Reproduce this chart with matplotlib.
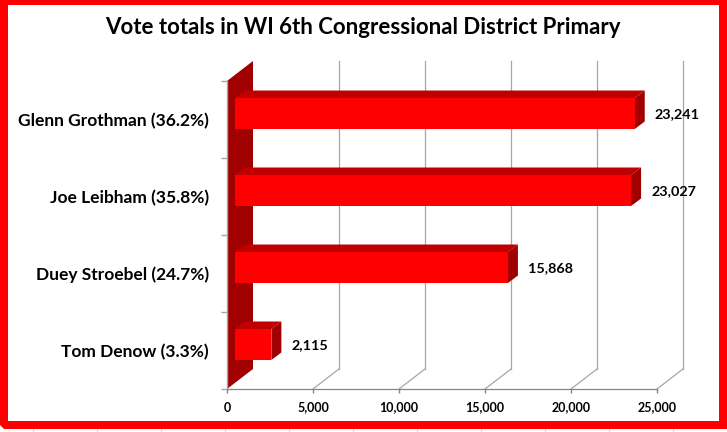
"""Vote totals in the WI 6th Congressional District primary, drawn as a fake 3D bar chart."""

import matplotlib

matplotlib.use("Agg")
import matplotlib.pyplot as plt
from matplotlib.patches import Polygon, Rectangle
from matplotlib.transforms import Affine2D

# Data
CANDIDATES = ["Glenn Grothman (36.2%)", "Joe Leibham (35.8%)", "Duey Stroebel (24.7%)", "Tom Denow (3.3%)"]
VOTES = [23241, 23027, 15868, 2115]
X_TICKS = [0, 5000, 10000, 15000, 20000, 25000]

TITLE = "Vote totals in WI 6th Congressional District Primary"

# Pixel geometry of the picture
W, H = 727, 432
LEFT, RIGHT, TOP, BOTTOM = 227, 657, 81, 389
WALL_DX, WALL_DY = 26, 20
BAR_DX, BAR_DY = 10, 7.5
BAR_SHIFT = 8

RED = "#ff0000"
TOP_RED = "#c00000"
SIDE_RED = "#a00000"
GREY = "#a6a6a6"
DARK_GREY = "#868686"

plt.rcParams["font.family"] = ["Lato", "DejaVu Sans"]

fig = plt.figure(figsize=(W / 100, H / 100), dpi=100)

# whole picture overlay for the red frame
bg = fig.add_axes([0, 0, 1, 1])
bg.set_xlim(0, W)
bg.set_ylim(H, 0)
bg.axis("off")
bg.add_patch(Polygon([(0, 0), (W, 0), (W, 429), (4, 429), (0, 425)], closed=True, fc=RED, ec="none"))
bg.add_patch(Rectangle((8, 5), 711, 416, fc="white", ec="none"))
for x in range(33, W, 64):
    bg.plot([x, x], [429, 432], color="#d9d9d9", lw=0.8)
bg.text(363, 28, TITLE, ha="center", va="center", fontsize=16, fontweight="bold", color="black")

ax = fig.add_axes([LEFT / W, 1 - BOTTOM / H, (RIGHT - LEFT) / W, (BOTTOM - TOP) / H])
ax.set_xlim(0, X_TICKS[-1])
n = len(CANDIDATES)
ax.set_ylim(n, 0)
ax.patch.set_alpha(0)
for name in ("top", "right"):
    ax.spines[name].set_visible(False)
ax.spines["left"].set_color(GREY)
ax.spines["bottom"].set_color(DARK_GREY)
ax.spines["left"].set_linewidth(1.0)
ax.spines["bottom"].set_linewidth(0.9)

back = ax.transData + Affine2D().translate(WALL_DX, WALL_DY)

# back gridlines and floor edges
for tick in X_TICKS[1:]:
    ax.plot([tick, tick], [0, n], transform=back, color=GREY, lw=0.9, zorder=1, clip_on=False)
    p0 = ax.transData.transform((tick, n))
    ax.plot([p0[0], p0[0] + WALL_DX], [p0[1], p0[1] + WALL_DY], transform=None,
            color=GREY, lw=0.9, zorder=1, clip_on=False)

# red side wall
wall_top = ax.transData.transform((0, 0))
wall_bot = ax.transData.transform((0, n))
ax.add_patch(Polygon([wall_top, wall_top + (WALL_DX, WALL_DY), wall_bot + (WALL_DX, WALL_DY), wall_bot],
                     closed=True, transform=None, fc=SIDE_RED, ec="none", zorder=2, clip_on=False))

# bars, front face through barh, top and side from the same values
BAR_H = 31 / ((BOTTOM - TOP) / n)
BAR_Y = [i + 0.5 - 6 / 77 for i in range(n)]
front = ax.transData + Affine2D().translate(BAR_SHIFT, 0)
ax.barh(BAR_Y, VOTES, height=BAR_H, color=RED, transform=front, zorder=4, clip_on=False)
for y, votes in zip(BAR_Y, VOTES):
    tl = front.transform((0, y - BAR_H / 2))
    tr = front.transform((votes, y - BAR_H / 2))
    br = front.transform((votes, y + BAR_H / 2))
    d = (BAR_DX, BAR_DY)
    ax.add_patch(Polygon([tl, tr, tr + d, tl + d], closed=True, transform=None,
                         fc=TOP_RED, ec="none", zorder=3, clip_on=False))
    ax.add_patch(Polygon([tr, br, br + d, tr + d], closed=True, transform=None,
                         fc=SIDE_RED, ec="none", zorder=3, clip_on=False))
    ax.annotate(f"{votes:,}", xy=(votes, y), xycoords=front, xytext=(20, -1),
                textcoords="offset pixels", ha="left", va="center",
                fontsize=10.4, fontweight="bold", zorder=6)

ax.set_yticks(range(n + 1))
ax.set_yticklabels([])
ax.tick_params(axis="y", length=4, color=GREY, width=1)
ax.set_xticks(X_TICKS)
ax.set_xticklabels([f"{t:,}" for t in X_TICKS], fontsize=9, fontweight="bold")
ax.tick_params(axis="x", length=3, color=DARK_GREY, width=1, pad=6)

for i, name in enumerate(CANDIDATES):
    ax.annotate(name, xy=(0, i + 0.5), xycoords=ax.transData, xytext=(-18, -1.5),
                textcoords="offset pixels", ha="right", va="center",
                fontsize=12.5, fontweight="bold")

fig.savefig("out.png", dpi=100)
plt.close(fig)
